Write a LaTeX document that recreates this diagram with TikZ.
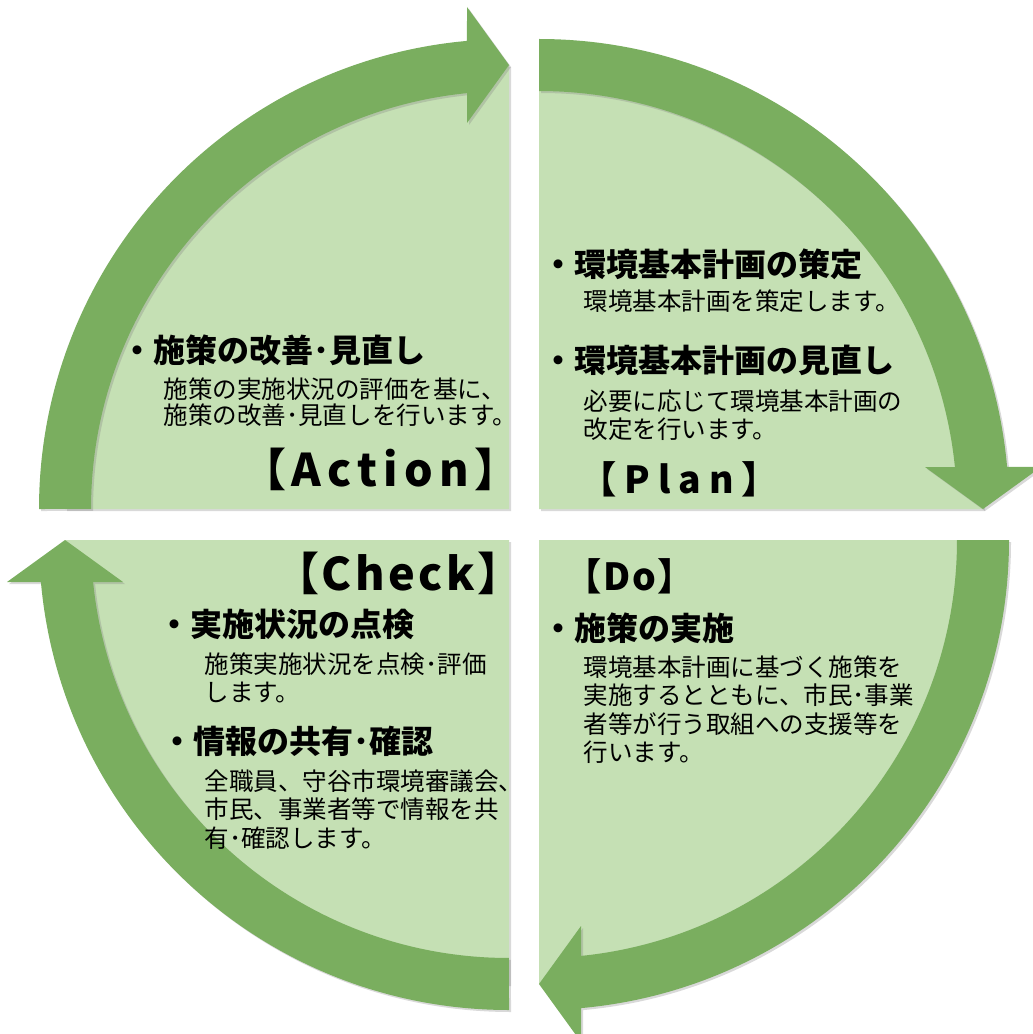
\documentclass[tikz,border=0pt]{standalone}
\usepackage{fontspec}
\usetikzlibrary{shadows}
\newfontfamily\jpfont{Noto Sans CJK JP}
\newfontfamily\jplabel[RawFeature=+palt]{Noto Sans CJK JP}
\definecolor{pieGreen}{RGB}{197,224,180}
\definecolor{ringGreen}{RGB}{122,174,95}

\tikzset{every picture/.style={line width=0.75pt}}
\tikzset{
  pie/.style={fill=pieGreen, drop shadow={opacity=0.3, shadow xshift=1.5pt, shadow yshift=-1.5pt}},
  ringarrow/.style={fill=ringGreen, drop shadow={opacity=0.3, shadow xshift=1.5pt, shadow yshift=-1.5pt}},
  head/.style={font=\jpfont\bfseries\fontsize{24}{28}\selectfont, inner sep=0pt, anchor=base west},
  body/.style={font=\jpfont\fontsize{18.4}{#1}\selectfont, inner sep=0pt, anchor=base west, align=left},
  body/.default=21.4,
  pdcabig/.style={font=\jplabel\bfseries\fontsize{33.75}{40}\selectfont\addfontfeature{LetterSpace=#1}, inner sep=0pt, anchor=base west},
  pdcabig/.default=14,
  pdcasmall/.style={font=\jplabel\bfseries\fontsize{28}{33}\selectfont\addfontfeature{LetterSpace=#1}, inner sep=0pt, anchor=base west},
  pdcasmall/.default=22
}

\begin{document}
\begin{tikzpicture}[x=0.75pt,y=0.75pt,yscale=-1,xscale=1]

\useasboundingbox (0,0) rectangle (1032,1034);

% Pie Shape (Action)
\fill [pie, shift={(509,509)}, rotate=0] (0,0) -- (-444,0) arc [start angle=180, end angle=270, radius=444] -- cycle;
% Pie Shape (Plan)
\fill [pie, shift={(539,509)}, rotate=90] (0,0) -- (-444,0) arc [start angle=180, end angle=270, radius=444] -- cycle;
% Pie Shape (Do)
\fill [pie, shift={(539,540)}, rotate=180] (0,0) -- (-444,0) arc [start angle=180, end angle=270, radius=444] -- cycle;
% Pie Shape (Check)
\fill [pie, shift={(509,540)}, rotate=270] (0,0) -- (-444,0) arc [start angle=180, end angle=270, radius=444] -- cycle;

% Circular Arrow (Action)
\fill [ringarrow, shift={(509,509)}, rotate=0] (-470,0) arc [start angle=180, end angle=264.87, radius=470] -- (-42,-502) -- (0,-444) -- (-42,-386) -- (-42,-415.9) arc [start angle=264.23, end angle=180, radius=418] -- cycle;
% Circular Arrow (Plan)
\fill [ringarrow, shift={(539,509)}, rotate=90] (-470,0) arc [start angle=180, end angle=264.87, radius=470] -- (-42,-502) -- (0,-444) -- (-42,-386) -- (-42,-415.9) arc [start angle=264.23, end angle=180, radius=418] -- cycle;
% Circular Arrow (Do)
\fill [ringarrow, shift={(539,540)}, rotate=180] (-470,0) arc [start angle=180, end angle=264.87, radius=470] -- (-42,-502) -- (0,-444) -- (-42,-386) -- (-42,-415.9) arc [start angle=264.23, end angle=180, radius=418] -- cycle;
% Circular Arrow (Check)
\fill [ringarrow, shift={(509,540)}, rotate=270] (-470,0) arc [start angle=180, end angle=264.87, radius=470] -- (-42,-502) -- (0,-444) -- (-42,-386) -- (-42,-415.9) arc [start angle=264.23, end angle=180, radius=418] -- cycle;

% Text Node
\draw (121,362) node (actHead) [head] {・施策の改善･見直し};
% Text Node (base = last line)
\draw (163,424.4) node (actBody) [body=19.4] {施策の実施状況の評価を基に、\\施策の改善･見直しを行います。};
% Text Node
\draw (262,486.7) node (actLabel) [pdcabig] {【Action】};

% Text Node
\draw (542,276) node (planHeadA) [head] {・環境基本計画の策定};
% Text Node
\draw (583,310.7) node (planBodyA) [body] {環境基本計画を策定します。};
% Text Node
\draw (542,372) node (planHeadB) [head] {・環境基本計画の見直し};
% Text Node
\draw (583,438) node (planBodyB) [body=20.6] {必要に応じて環境基本計画の\\改定を行います。};
% Text Node
\draw (597,493) node (planLabel) [pdcasmall] {【Plan】};

% Text Node
\draw (295,590) node (checkLabel) [pdcabig=8] {【Check】};
% Text Node
\draw (158,636) node (checkHeadA) [head] {・実施状況の点検};
% Text Node
\draw (204,701) node (checkBodyA) [body=21] {施策実施状況を点検･評価\\します。};
% Text Node
\draw (161,753) node (checkHeadB) [head] {・情報の共有･確認};
% Text Node
\draw (204,847.1) node (checkBodyB) [body] {全職員、守谷市環境審議会、\\市民、事業者等で情報を共\\有･確認します。};

% Text Node
\draw (582,590) node (doLabel) [pdcasmall=6] {【Do】};
% Text Node
\draw (542,640) node (doHead) [head] {・施策の実施};
% Text Node
\draw (583,761.9) node (doBody) [body] {環境基本計画に基づく施策を\\実施するとともに、市民･事業\\者等が行う取組への支援等を\\行います。};

\end{tikzpicture}
\end{document}
